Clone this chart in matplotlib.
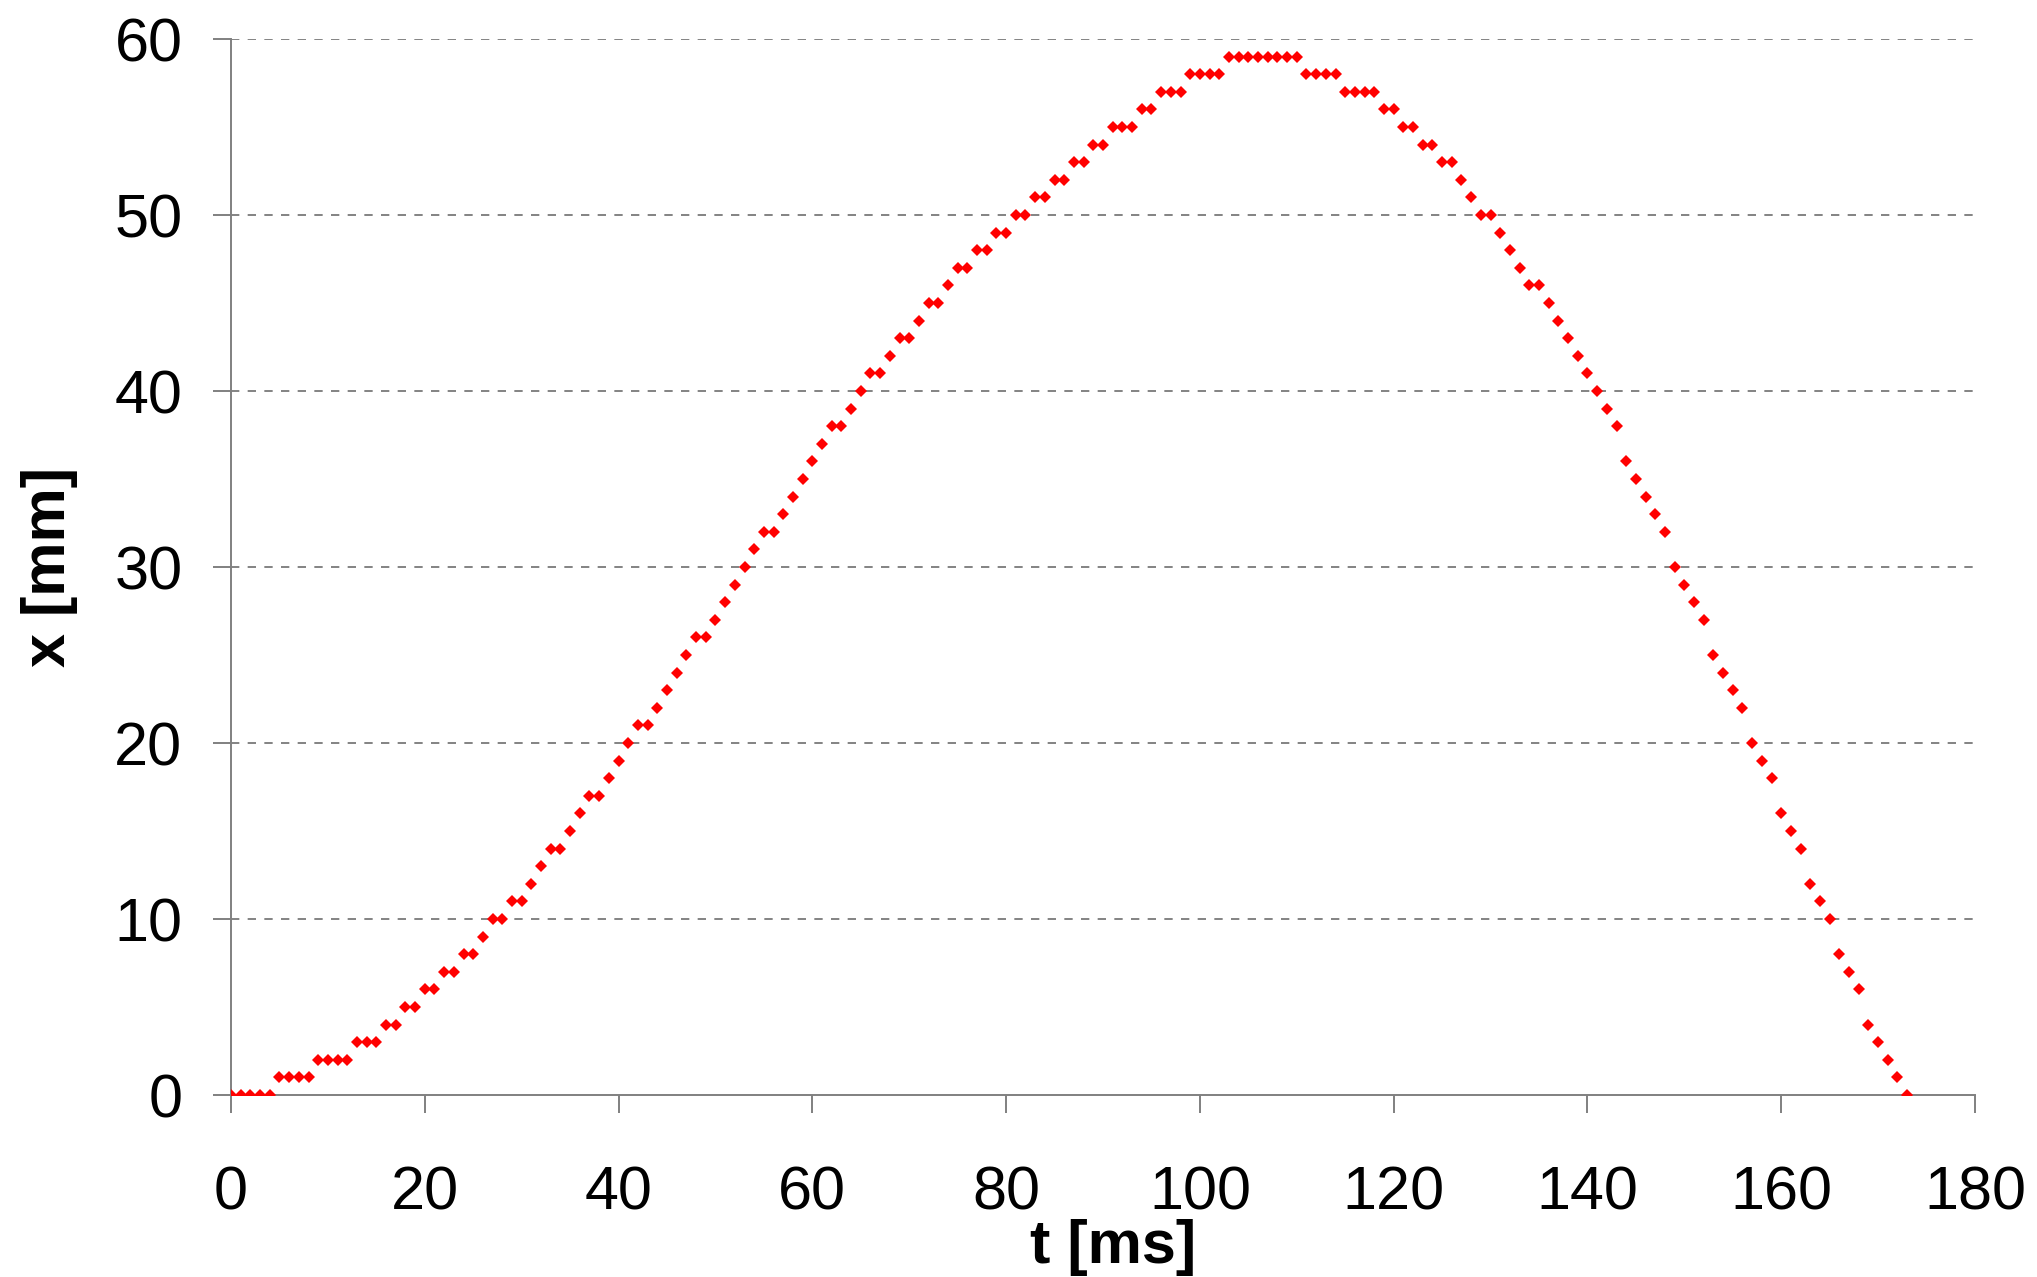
import matplotlib
matplotlib.use('Agg')
import matplotlib.pyplot as plt
import numpy as np

plt.rcParams['font.family'] = ['Liberation Sans', 'DejaVu Sans']

# Messwerte: Position x [mm], Abtastung alle 1 ms
x_mm = [0, 0, 0, 0, 0, 1, 1, 1, 1, 2, 2, 2, 2, 3, 3, 3, 4, 4, 5, 5,
        6, 6, 7, 7, 8, 8, 9, 10, 10, 11, 11, 12, 13, 14, 14, 15, 16, 17, 17, 18,
        19, 20, 21, 21, 22, 23, 24, 25, 26, 26, 27, 28, 29, 30, 31, 32, 32, 33, 34, 35,
        36, 37, 38, 38, 39, 40, 41, 41, 42, 43, 43, 44, 45, 45, 46, 47, 47, 48, 48, 49,
        49, 50, 50, 51, 51, 52, 52, 53, 53, 54, 54, 55, 55, 55, 56, 56, 57, 57, 57, 58,
        58, 58, 58, 59, 59, 59, 59, 59, 59, 59, 59, 58, 58, 58, 58, 57, 57, 57, 57, 56,
        56, 55, 55, 54, 54, 53, 53, 52, 51, 50, 50, 49, 48, 47, 46, 46, 45, 44, 43, 42,
        41, 40, 39, 38, 36, 35, 34, 33, 32, 30, 29, 28, 27, 25, 24, 23, 22, 20, 19, 18,
        16, 15, 14, 12, 11, 10, 8, 7, 6, 4, 3, 2, 1, 0]
t_ms = np.arange(len(x_mm))  # 0 ... 173 ms

x_ticks = [0, 20, 40, 60, 80, 100, 120, 140, 160, 180]
y_ticks = [0, 10, 20, 30, 40, 50, 60]

fig = plt.figure(figsize=(20.37, 12.77), dpi=100)
ax = fig.add_axes([231/2037, 1 - 1095/1277, 1744/2037, 1056/1277])

ax.plot(t_ms, x_mm, linestyle='none', marker='D', markersize=6.6,
        markerfacecolor='#ff0000', markeredgewidth=0, zorder=3)

ax.set_xlim(0, 180)
ax.set_ylim(0, 60)
ax.set_xticks(x_ticks)
ax.set_yticks(y_ticks)

# gestrichelte Gitterlinien
for v in y_ticks[1:]:
    ax.axhline(v, color='#6e6e6e', linewidth=1.2, linestyle=(0, (5, 5)), zorder=1)

for s in ['top', 'right']:
    ax.spines[s].set_visible(False)
for s in ['left', 'bottom']:
    ax.spines[s].set_color('#808080')
    ax.spines[s].set_linewidth(1.4)

ax.tick_params(axis='both', direction='out', length=13, width=1.4,
               color='#808080', labelsize=44, labelcolor='black')
ax.tick_params(axis='x', pad=38)
ax.tick_params(axis='y', pad=22)

ax.set_xlabel('t [ms]', fontsize=44, fontweight='bold', va='top')
ax.xaxis.set_label_coords(0.5057, -0.117)
ax.set_ylabel('x [mm]', fontsize=44, fontweight='bold')
ax.yaxis.set_label_coords(-0.0877, 0.5)

fig.savefig('out.png', dpi=100)
